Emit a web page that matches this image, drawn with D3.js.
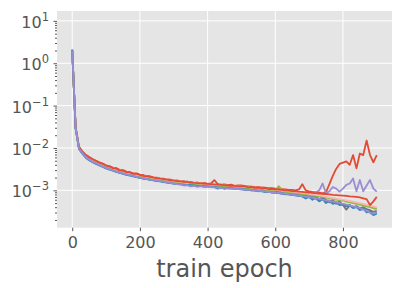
<!DOCTYPE html>
<html>
<head>
<meta charset="utf-8">
<script src="https://d3js.org/d3.v7.min.js"></script>
<style>
  body { margin: 0; background: #fff; }
  svg { display: block; font-family: "DejaVu Sans", sans-serif; }
  .tick line { stroke: #555; }
  .domain { display: none; }
</style>
</head>
<body>
<svg id="chart" width="402" height="288"></svg>
<script>
// x: train epoch, one sample every 10 epochs
const epochs = d3.range(0, 901, 10);

// loss for each run, in units of 1e-3
const run1 = [2050, 31, 10.5, 8.3, 6.9, 6.1, 5.5, 5.0, 4.6, 4.3,
  3.9, 3.75, 3.45, 3.35, 3.05, 3.0, 2.78, 2.7, 2.52, 2.5,
  2.35, 2.3, 2.15, 2.15, 2.02, 2.0, 1.88, 1.9, 1.78, 1.8,
  1.7, 1.72, 1.6, 1.64, 1.55, 1.58, 1.5, 1.53, 1.46, 1.5,
  1.42, 1.45, 1.75, 1.4, 1.37, 1.38, 1.33, 1.36, 1.28, 1.31,
  1.3, 1.26, 1.24, 1.22, 1.2, 1.19, 1.17, 1.15, 1.13, 1.12,
  1.1, 1.08, 1.07, 1.05, 1.03, 1.02, 1.0, 1.05, 1.4, 1.0,
  0.95, 0.92, 0.9, 0.88, 0.85, 0.9, 1.4, 2.2, 3.2, 4.2,
  4.5, 4.8, 4.0, 6.8, 3.3, 7.4, 6.8, 15, 6.8, 4.6,
  6.8];
const run2 = [2100, 29, 9.6, 7.4, 6.0, 5.2, 4.7, 4.3, 3.95, 3.65,
  3.35, 3.15, 2.95, 2.75, 2.62, 2.5, 2.36, 2.28, 2.18, 2.08,
  1.98, 1.92, 1.86, 1.8, 1.74, 1.68, 1.64, 1.6, 1.55, 1.5,
  1.46, 1.4, 1.43, 1.35, 1.38, 1.3, 1.34, 1.27, 1.3, 1.24,
  1.25, 1.23, 1.21, 1.1, 1.2, 1.08, 1.15, 1.13, 1.12, 1.1,
  1.08, 1.03, 1.06, 0.98, 1.02, 0.95, 0.98, 0.91, 0.94, 0.88,
  0.88, 0.86, 0.84, 0.82, 0.8, 0.78, 0.76, 0.74, 0.72, 0.7,
  0.68, 0.66, 0.64, 0.55, 0.62, 0.5, 0.56, 0.48, 0.52, 0.45,
  0.46, 0.42, 0.44, 0.38, 0.4, 0.34, 0.37, 0.3, 0.33, 0.27,
  0.3];
const run3 = [1980, 30, 9.9, 7.6, 6.2, 5.4, 4.8, 4.4, 4.0, 3.7,
  3.4, 3.2, 3.0, 2.8, 2.66, 2.52, 2.4, 2.3, 2.2, 2.12,
  2.02, 1.95, 1.88, 1.83, 1.77, 1.72, 1.66, 1.6, 1.55, 1.5,
  1.46, 1.42, 1.4, 1.37, 1.34, 1.3, 1.28, 1.27, 1.25, 1.23,
  1.22, 1.2, 1.19, 1.17, 1.16, 1.14, 1.13, 1.12, 1.1, 1.1,
  1.08, 1.07, 1.05, 1.04, 1.02, 1.0, 1.0, 0.98, 0.97, 0.96,
  0.95, 0.94, 0.93, 0.92, 0.91, 0.9, 0.89, 0.88, 0.87, 0.86,
  0.85, 0.8, 0.9, 1.0, 1.45, 0.85, 0.95, 1.2, 1.1, 0.93,
  1.1, 1.35, 1.45, 1.9, 0.95, 1.75, 0.95, 1.3, 1.75, 1.1,
  0.93];
const run4 = [1950, 29, 9.8, 7.6, 6.2, 5.4, 4.85, 4.45, 4.05, 3.75,
  3.45, 3.2, 3.0, 2.82, 2.68, 2.52, 2.4, 2.3, 2.2, 2.1,
  2.0, 1.92, 1.9, 1.78, 1.78, 1.66, 1.68, 1.57, 1.6, 1.48,
  1.5, 1.42, 1.44, 1.36, 1.39, 1.31, 1.35, 1.27, 1.3, 1.24,
  1.26, 1.24, 1.22, 1.2, 1.19, 1.17, 1.15, 1.14, 1.12, 1.11,
  1.09, 1.07, 1.02, 1.08, 0.98, 1.04, 0.97, 1.0, 0.96, 0.95,
  0.93, 0.91, 0.89, 0.8, 0.88, 0.84, 0.82, 0.8, 0.77, 0.75,
  0.73, 0.7, 0.72, 0.62, 0.68, 0.6, 0.52, 0.6, 0.48, 0.55,
  0.45, 0.35, 0.44, 0.4, 0.42, 0.38, 0.4, 0.36, 0.34, 0.31,
  0.33];
const run5 = [2000, 30, 10.2, 8.0, 6.6, 5.8, 5.15, 4.75, 4.3, 4.0,
  3.7, 3.45, 3.22, 3.02, 2.88, 2.72, 2.58, 2.48, 2.38, 2.28,
  2.18, 2.1, 2.03, 1.97, 1.9, 1.85, 1.8, 1.74, 1.69, 1.65,
  1.6, 1.57, 1.54, 1.51, 1.49, 1.47, 1.45, 1.43, 1.41, 1.39,
  1.37, 1.35, 1.33, 1.31, 1.3, 1.28, 1.26, 1.25, 1.23, 1.22,
  1.2, 1.18, 1.16, 1.14, 1.12, 1.1, 1.08, 1.06, 1.04, 1.03,
  1.02, 1.0, 0.98, 0.96, 0.94, 0.92, 0.9, 0.88, 0.86, 0.84,
  0.82, 0.8, 0.78, 0.76, 0.73, 0.7, 0.67, 0.65, 0.63, 0.6,
  0.58, 0.56, 0.54, 0.52, 0.5, 0.48, 0.46, 0.44, 0.42, 0.4,
  0.38];
const run6 = [2000, 30, 10, 7.8, 6.4, 5.6, 5.0, 4.6, 4.2, 3.9,
  3.6, 3.35, 3.15, 2.95, 2.8, 2.65, 2.52, 2.42, 2.32, 2.22,
  2.12, 2.05, 1.98, 1.92, 1.86, 1.8, 1.75, 1.7, 1.65, 1.6,
  1.56, 1.53, 1.5, 1.52, 1.65, 1.43, 1.41, 1.39, 1.37, 1.35,
  1.33, 1.31, 1.29, 1.27, 1.26, 1.24, 1.22, 1.21, 1.19, 1.18,
  1.16, 1.14, 1.12, 1.1, 1.08, 1.06, 1.04, 1.02, 1.0, 0.99,
  0.98, 1.25, 1.02, 0.92, 0.9, 0.88, 0.86, 0.84, 0.82, 0.8,
  0.78, 0.76, 0.74, 0.72, 0.7, 0.67, 0.66, 0.62, 0.6, 0.58,
  0.57, 0.54, 0.52, 0.5, 0.48, 0.46, 0.44, 0.42, 0.4, 0.38,
  0.36];
const run7 = [2000, 31, 10.4, 8.1, 6.7, 5.9, 5.3, 4.85, 4.45, 4.1,
  3.8, 3.55, 3.35, 3.12, 2.95, 2.8, 2.66, 2.56, 2.45, 2.35,
  2.25, 2.2, 2.08, 2.06, 1.95, 1.93, 1.83, 1.83, 1.73, 1.72,
  1.65, 1.62, 1.58, 1.56, 1.54, 1.52, 1.49, 1.47, 1.45, 1.43,
  1.41, 1.39, 1.37, 1.35, 1.34, 1.32, 1.29, 1.28, 1.26, 1.25,
  1.23, 1.21, 1.19, 1.17, 1.15, 1.12, 1.1, 1.08, 1.06, 1.05,
  1.04, 1.02, 1.0, 0.98, 0.95, 0.93, 0.91, 0.89, 0.87, 0.85,
  0.83, 0.8, 0.78, 0.76, 0.74, 0.71, 0.68, 0.66, 0.64, 0.62,
  0.6, 0.58, 0.56, 0.54, 0.52, 0.5, 0.48, 0.46, 0.44, 0.42,
  0.4];
const run8 = [2020, 31, 10.6, 8.2, 6.8, 6.0, 5.4, 4.95, 4.5, 4.2,
  3.85, 3.65, 3.35, 3.25, 2.95, 2.9, 2.68, 2.65, 2.45, 2.45,
  2.3, 2.2, 2.14, 2.08, 2.0, 1.94, 1.88, 1.83, 1.78, 1.73,
  1.69, 1.65, 1.62, 1.59, 1.56, 1.53, 1.5, 1.48, 1.46, 1.44,
  1.42, 1.4, 1.38, 1.36, 1.34, 1.32, 1.3, 1.28, 1.27, 1.26,
  1.24, 1.25, 1.18, 1.2, 1.14, 1.16, 1.1, 1.12, 1.06, 1.09,
  1.06, 1.04, 1.02, 1.0, 0.98, 0.96, 0.95, 0.93, 0.92, 0.9,
  0.89, 0.87, 0.86, 0.84, 0.83, 0.82, 0.8, 0.78, 0.77, 0.76,
  0.75, 0.74, 0.72, 0.71, 0.7, 0.68, 0.65, 0.62, 0.45, 0.55,
  0.7];
const run9 = [2080, 29, 9.5, 7.3, 5.9, 5.15, 4.6, 4.2, 3.85, 3.58,
  3.3, 3.08, 2.9, 2.72, 2.58, 2.45, 2.33, 2.24, 2.14, 2.05,
  1.96, 1.89, 1.83, 1.77, 1.72, 1.66, 1.62, 1.57, 1.52, 1.48,
  1.44, 1.41, 1.38, 1.36, 1.34, 1.32, 1.3, 1.28, 1.27, 1.25,
  1.23, 1.21, 1.19, 1.17, 1.16, 1.14, 1.12, 1.11, 1.1, 1.08,
  1.06, 1.05, 1.03, 1.01, 0.99, 0.97, 0.95, 0.93, 0.92, 0.9,
  0.88, 0.86, 0.84, 0.82, 0.8, 0.78, 0.76, 0.74, 0.72, 0.64,
  0.7, 0.6, 0.68, 0.56, 0.62, 0.54, 0.58, 0.5, 0.52, 0.46,
  0.48, 0.44, 0.45, 0.4, 0.42, 0.36, 0.38, 0.32, 0.3, 0.26,
  0.28];
const run10 = [1990, 30, 9.8, 7.5, 6.1, 5.3, 4.75, 4.35, 3.95, 3.65,
  3.38, 3.15, 2.96, 2.78, 2.63, 2.5, 2.38, 2.28, 2.18, 2.09,
  2.0, 1.93, 1.86, 1.8, 1.75, 1.7, 1.65, 1.6, 1.55, 1.5,
  1.45, 1.4, 1.38, 1.3, 1.33, 1.24, 1.27, 1.21, 1.25, 1.2,
  1.2, 1.19, 1.17, 1.16, 1.14, 1.13, 1.11, 1.1, 1.09, 1.07,
  1.06, 1.04, 1.03, 1.01, 1.0, 0.98, 0.96, 0.94, 0.92, 0.9,
  0.89, 0.87, 0.85, 0.83, 0.81, 0.79, 0.77, 0.75, 0.73, 0.71,
  0.69, 0.67, 0.65, 0.63, 0.6, 0.58, 0.56, 0.54, 0.52, 0.5,
  0.48, 0.46, 0.44, 0.42, 0.4, 0.38, 0.35, 0.33, 0.3, 0.28,
  0.3];

const runs = [run1, run2, run3, run4, run5, run6, run7, run8, run9, run10];
const colors = ['#E24A33', '#348ABD', '#988ED5', '#777777', '#FBC15E', '#8EBA42', '#FFB5B8'];
const xTicks = [0, 200, 400, 600, 800];
const yDecades = [-3, -2, -1, 0, 1];
const unit = 1e-3;

const svg = d3.select('#chart');
const plotL = 57, plotR = 392, plotT = 11, plotB = 227.7;

const x = d3.scaleLinear().domain([-45, 945]).range([plotL, plotR]);
const y = d3.scaleLog().domain([Math.pow(10, -3.882), Math.pow(10, 1.233)]).range([plotB, plotT]);

svg.append('rect')
  .attr('x', plotL).attr('y', plotT)
  .attr('width', plotR - plotL).attr('height', plotB - plotT)
  .attr('fill', '#E5E5E5');

// grid
svg.append('g').selectAll('line')
  .data(xTicks).enter().append('line')
    .attr('x1', d => x(d)).attr('x2', d => x(d))
    .attr('y1', plotT).attr('y2', plotB)
    .attr('stroke', '#fff').attr('stroke-width', 1);
svg.append('g').selectAll('line')
  .data(yDecades).enter().append('line')
    .attr('x1', plotL).attr('x2', plotR)
    .attr('y1', d => y(Math.pow(10, d))).attr('y2', d => y(Math.pow(10, d)))
    .attr('stroke', '#fff').attr('stroke-width', 1);

svg.append('clipPath').attr('id', 'plot')
  .append('rect')
    .attr('x', plotL).attr('y', plotT)
    .attr('width', plotR - plotL).attr('height', plotB - plotT);

const line = d3.line()
  .x((d, i) => x(epochs[i]))
  .y(d => y(d * unit));

svg.append('g')
  .attr('clip-path', 'url(#plot)')
  .selectAll('path')
  .data(runs)
  .enter()
  .append('path')
    .attr('d', line)
    .attr('fill', 'none')
    .attr('stroke', (d, i) => colors[i % colors.length])
    .attr('stroke-width', 1.8)
    .attr('stroke-linejoin', 'round');

// x axis
const xAxis = svg.append('g')
  .attr('transform', `translate(0,${plotB})`)
  .call(d3.axisBottom(x).tickValues(xTicks).tickSize(3.5).tickPadding(5.7));
xAxis.selectAll('text')
  .attr('font-size', 16).attr('fill', '#555')
  .attr('font-family', '"DejaVu Sans", sans-serif');

// y axis: major + minor ticks, labels as 10^n
const minorTicks = [];
for (let k = -4; k <= 1; k++) {
  for (let m = 2; m <= 9; m++) {
    const v = m * Math.pow(10, k);
    if (v >= y.domain()[0] && v <= y.domain()[1]) minorTicks.push(v);
  }
}
svg.append('g')
  .attr('transform', `translate(${plotL},0)`)
  .call(d3.axisLeft(y).tickValues(minorTicks).tickSize(2).tickFormat(''));

svg.append('g')
  .attr('transform', `translate(${plotL},0)`)
  .call(d3.axisLeft(y).tickValues(yDecades.map(d => Math.pow(10, d))).tickSize(3.5).tickFormat(''));

const yLabels = svg.append('g')
  .selectAll('text')
  .data(yDecades)
  .enter()
  .append('text')
    .attr('x', 49)
    .attr('y', d => y(Math.pow(10, d)) + 7)
    .attr('text-anchor', 'end')
    .attr('fill', '#555')
    .attr('font-size', 16);
yLabels.append('tspan').text('10');
yLabels.append('tspan')
  .attr('dy', -7)
  .attr('font-size', 11.5)
  .text(d => d < 0 ? '\u2212' + (-d) : String(d));

svg.append('text')
  .attr('x', (plotL + plotR) / 2)
  .attr('y', 276.7)
  .attr('text-anchor', 'middle')
  .attr('fill', '#555')
  .attr('font-size', 24)
  .text('train epoch');
</script>
</body>
</html>
